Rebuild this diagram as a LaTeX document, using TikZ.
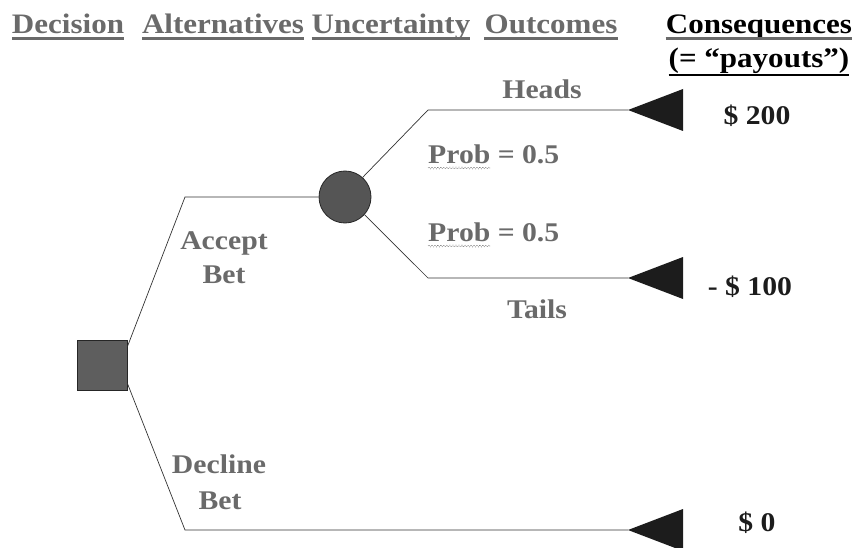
\documentclass[tikz,border=0pt]{standalone}
\usepackage{fontspec}
\setmainfont[FakeStretch=1.1]{Liberation Serif}
\usetikzlibrary{decorations.pathmorphing}
\definecolor{txtgray}{HTML}{6A6A6A}
\definecolor{darkfill}{HTML}{1C1C1C}
\definecolor{nodegray}{HTML}{5E5E5E}
\begin{document}
\begin{tikzpicture}[x=1pt,y=-1pt,
  every node/.style={font=\fontsize{27}{31}\selectfont\bfseries, inner sep=0pt},
  hdr/.style={text=txtgray, anchor=base, font=\fontsize{28.2}{32}\selectfont\bfseries},
  hdrk/.style={text=black, anchor=base, font=\fontsize{28.2}{32}\selectfont\bfseries},
  lbl/.style={text=txtgray, anchor=base},
  val/.style={text=darkfill, anchor=base},
  branch/.style={draw=black!80, line width=0.7pt},
  ulg/.style={draw=txtgray, line width=3pt},
  ulk/.style={draw=black, line width=3pt},
  tri/.style={fill=darkfill},
  wavy/.style={draw=txtgray, densely dotted, line width=0.6pt, decorate, decoration={snake, amplitude=0.9pt, segment length=3pt}}
]
\useasboundingbox (0,0) rectangle (854,548);

% headers
\node[hdr] (h1) at (68,34) {Decision};
\node[hdr] (h2) at (223,34) {Alternatives};
\node[hdr] (h3) at (391,34) {Uncertainty};
\node[hdr] (h4) at (551,34) {Outcomes};
\node[hdrk] (h5) at (759,34) {Consequences};
\node[hdrk] (h6) at (759,68) {(= “payouts”)};
\foreach \n in {h1,h2,h3,h4,h5}{
  \draw[\ifx\n h5 ulk\else ulg\fi] ([yshift=-4.5pt]\n.base west) -- ([yshift=-4.5pt]\n.base east);}
\draw[ulk, line width=2.2pt] ([yshift=-7pt]h6.base west) -- ([yshift=-7pt]h6.base east);

% decision and chance nodes
\node[draw=black!85, fill=nodegray, minimum size=50pt, line width=0.8pt] (d) at (102,365) {};
\node[circle, draw=black!85, fill=nodegray!90!black, minimum size=52pt, line width=0.8pt] (c) at (345,197) {};

% kink and end coordinates
\coordinate (ka) at (185,197);
\coordinate (kd) at (185,530);
\coordinate (kh) at (428,110);
\coordinate (kt) at (428,278);
\coordinate (eh) at (628,110);
\coordinate (et) at (628,278);
\coordinate (ed) at (628,530);

% branches
\draw[branch] ([yshift=-7pt]d.north east) -- (ka) -- (c.west);
\draw[branch] ([yshift=7pt]d.south east) -- (kd) -- (ed);
\draw[branch] (c.48) -- (kh) -- (eh);
\draw[branch] (c.-42) -- (kt) -- (et);

% terminal triangles
\foreach \e in {eh,et,ed}{
  \fill[tri] (\e) -- ++(55,-21) -- ++(0,42) -- cycle;}

% labels
\node[lbl] (heads) at (542,99) {Heads};
\node[lbl] (tails) at (537,318) {Tails};
\node[lbl] (acc1) at (224,249) {Accept};
\node[lbl] (acc2) at (224,283) {Bet};
\node[lbl] (dec1) at (219,473) {Decline};
\node[lbl] (dec2) at (220,509) {Bet};

\node[lbl, anchor=base west] (p1) at (428,164) {Prob};
\node[lbl, anchor=base west] (p1b) at ([xshift=7pt]p1.base east) {= 0.5};
\node[lbl, anchor=base west] (p2) at (428,242) {Prob};
\node[lbl, anchor=base west] (p2b) at ([xshift=7pt]p2.base east) {= 0.5};
\draw[wavy] ([yshift=-4pt]p1.base west) -- ([yshift=-4pt]p1.base east);
\draw[wavy] ([yshift=-4pt]p2.base west) -- ([yshift=-4pt]p2.base east);

% values
\node[val] (v1) at (757,125) {\$ 200};
\node[val] (v2) at (750,295) {- \$ 100};
\node[val] (v3) at (757,531) {\$ 0};
\end{tikzpicture}
\end{document}
